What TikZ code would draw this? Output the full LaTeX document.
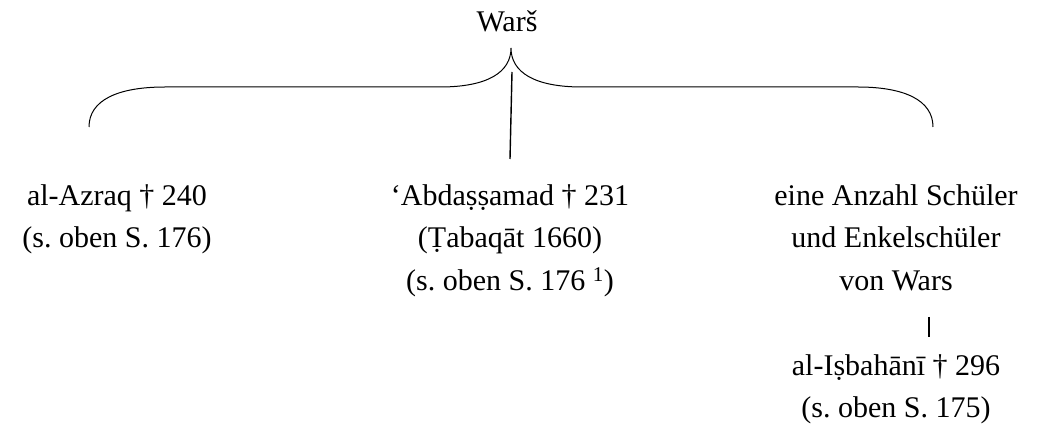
\documentclass[tikz,border=0pt]{standalone}
\usepackage{fontspec}
\setmainfont{Liberation Serif}
\frenchspacing
\begin{document}
\begin{tikzpicture}[x=1pt,y=-1pt,
  txt/.style={font=\fontsize{30}{42.5}\selectfont, inner sep=0pt, align=center, anchor=north},
  ln/.style={line width=1pt, black}]
\useasboundingbox (0,0) rectangle (1037,430);
% title
\node[font=\fontsize{30}{36}\selectfont, inner sep=0pt, anchor=base] (wars) at (507,32) {Warš};
% brace
\coordinate (bl) at (89,127);
\coordinate (tip) at (511,48);
\coordinate (br) at (933,127);
\draw[ln] (bl) .. controls (89,100) and (118,87) .. (165,87) -- (440,87)
  .. controls (488,87) and (511,72) .. (tip)
  .. controls (511,72) and (534,87) .. (582,87) -- (858,87)
  .. controls (904,87) and (933,100) .. (br);
% columns
\node[txt] (left) at (117,205-29.75) {\strut al-Azraq † 240\\(s. oben S. 176)};
\node[txt] (mid) at (510,205-29.75) {\strut ‘Abdaṣṣamad † 231\\(Ṭabaqāt 1660)\\(s. oben S. 176 \textsuperscript{1})};
\node[txt] (right) at (896,205-29.75) {\strut eine Anzahl Schüler\\und Enkelschüler\\von Wars};
\node[txt] (isb) at (896,375-29.75) {\strut al-Iṣbahānī † 296\\(s. oben S. 175)};
% connectors
\coordinate (mt) at (512,72);
\coordinate (mb) at (510,159);
\draw[line width=1.4pt] (mt) -- (mb);
\coordinate (bt) at (929,317);
\coordinate (bb) at (929,337);
\draw[line width=1.4pt] (bt) -- (bb);
\end{tikzpicture}
\end{document}
